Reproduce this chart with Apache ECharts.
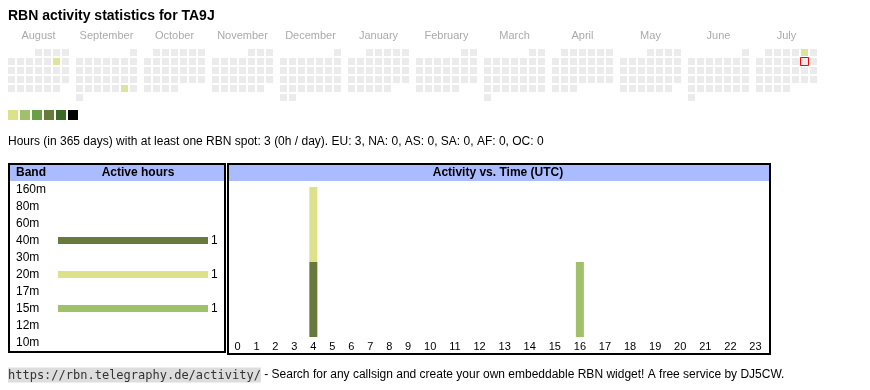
<!DOCTYPE html>
<html><head><meta charset="utf-8">
<script src="https://cdn.jsdelivr.net/npm/echarts@6/dist/echarts.min.js"></script>
<style>html,body{margin:0;padding:0;background:#fff}#c{width:870px;height:390px}</style>
</head><body><div id="c"></div>
<script>
// ---------- data ----------
const callsign = 'TA9J';
const months = ['2024-08','2024-09','2024-10','2024-11','2024-12','2025-01','2025-02','2025-03','2025-04','2025-05','2025-06','2025-07'];
const monthNames = ['August','September','October','November','December','January','February','March','April','May','June','July'];
const activeDays = ['2024-08-10','2024-09-28','2025-07-05'];
const activeDayHours = [1, 1, 1];
const today = '2025-07-12';
const levelColors = ['#dce28a','#9ec169','#68a043','#677a3b','#3c6a26','#000000'];
const levelMin = [1, 2, 4, 8, 16, 32];
const levelMax = [1, 3, 7, 15, 31, 24 * 31];
const bands = ['160m','80m','60m','40m','30m','20m','17m','15m','12m','10m'];
const bandHours = [0, 0, 0, 1, 0, 1, 0, 1, 0, 0];
const bandColors = ['#3c6a26','#68a043','#b0c070','#677a3b','#8aa050','#dce28a','#c0d080','#9ec169','#a0b860','#6f8f3f'];
const hours = ['0','1','2','3','4','5','6','7','8','9','10','11','12','13','14','15','16','17','18','19','20','21','22','23'];
const hourly40m = [0,0,0,0,1,0,0,0,0,0,0,0,0,0,0,0,0,0,0,0,0,0,0,0];
const hourly20m = [0,0,0,0,1,0,0,0,0,0,0,0,0,0,0,0,0,0,0,0,0,0,0,0];
const hourly15m = [0,0,0,0,0,0,0,0,0,0,0,0,0,0,0,0,1,0,0,0,0,0,0,0];
const continents = ['EU','NA','AS','SA','AF','OC'];
const continentHours = [3, 0, 0, 0, 0, 0];
const periodDays = 365;
const totalHours = 3;

// ---------- build ----------
const FONT = '"Liberation Sans", Arial, sans-serif';
const MONO = '"DejaVu Sans Mono", "Liberation Mono", monospace';
const hourlyByBand = bands.map(b => b === '40m' ? hourly40m : b === '20m' ? hourly20m : b === '15m' ? hourly15m : hours.map(() => 0));

const calendars = months.map((m, i) => ({
  orient: 'vertical', range: m, cellSize: [9, 9], left: 7 + i * 68, top: 48,
  dayLabel: { show: false, firstDay: 1 }, monthLabel: { show: false },
  yearLabel: { show: true, position: 'top', margin: 7, formatter: monthNames[i], color: '#aaaaaa', fontSize: 11, fontWeight: 'normal', fontFamily: FONT },
  splitLine: { show: false },
  itemStyle: { color: '#ebebeb', borderColor: '#ffffff', borderWidth: 2 }
}));

const series = [];
const dayIdx = [];
months.forEach((m, i) => {
  dayIdx.push(series.length);
  series.push({
    type: 'scatter', coordinateSystem: 'calendar', calendarIndex: i,
    data: activeDays.map((d, k) => [d, activeDayHours[k]]).filter(p => p[0].startsWith(m)),
    symbol: 'rect', symbolSize: 7, silent: true
  });
});
const todayCal = months.findIndex(m => today.startsWith(m));
series.push({
  type: 'scatter', coordinateSystem: 'calendar', calendarIndex: todayCal, data: [[today, 0]],
  symbol: 'rect', symbolSize: 8, z: 10, itemStyle: { color: '#ebebeb', borderColor: '#ff0000', borderWidth: 1, opacity: 1 }, silent: true
});

// left: active hours per band
const grids = [{ left: 58, top: 181, width: 150, height: 170 }];
const xAxes = [{ gridIndex: 0, type: 'value', min: 0, max: Math.max(...bandHours), show: false }];
const yAxes = [{ gridIndex: 0, type: 'category', data: bands, inverse: true,
  axisLine: { show: false }, axisTick: { show: false },
  axisLabel: { align: 'left', margin: 42, fontSize: 12, color: '#000', fontFamily: FONT } }];
series.push({
  type: 'bar', xAxisIndex: 0, yAxisIndex: 0, barWidth: 7, silent: true,
  data: bandHours.map((v, i) => ({ value: v, itemStyle: { color: bandColors[i] } })),
  label: { show: true, position: 'right', distance: 3, fontSize: 12, color: '#000', fontFamily: FONT, formatter: p => p.value > 0 ? String(p.value) : '' }
});

// right: activity vs time, table-like columns sized by label width
const ctx = document.createElement('canvas').getContext('2d');
ctx.font = '11px "Liberation Sans"';
const tw = hours.map(h => ctx.measureText(h).width);
const colStart = 228, colSpan = 540;
const pad = (colSpan - tw.reduce((a, b) => a + b, 0)) / hours.length;
const stackMax = Math.max(...hours.map((h, i) => hourlyByBand.reduce((s, arr) => s + arr[i], 0)));
let cx = colStart;
hours.forEach((h, i) => {
  const g = grids.length;
  const w = tw[i] + pad;
  grids.push({ left: cx, width: w, top: 187, height: 150 });
  cx += w;
  xAxes.push({ gridIndex: g, type: 'category', data: [h], axisLine: { show: false }, axisTick: { show: false },
    axisLabel: { margin: 4, fontSize: 11, color: '#000', fontFamily: FONT, interval: 0 } });
  yAxes.push({ gridIndex: g, type: 'value', min: 0, max: stackMax, show: false });
  bands.forEach((b, bi) => {
    const v = hourlyByBand[bi][i];
    if (v > 0) series.push({ type: 'bar', xAxisIndex: g, yAxisIndex: g, stack: 'h' + i, barWidth: 8, silent: true,
      data: [v], itemStyle: { color: bandColors[bi] } });
  });
});

const statsText = 'Hours (in ' + periodDays + ' days) with at least one RBN spot: ' + totalHours + ' (' + Math.round(totalHours / periodDays) + 'h / day). ' +
  continents.map((c, i) => c + ': ' + continentHours[i]).join(', ');

const graphic = [
  { type: 'text', left: 8, top: 9, style: { text: 'RBN activity statistics for ' + callsign, font: 'bold 14px ' + FONT, fill: '#000' } },
  { type: 'text', x: 8, y: 142, style: { text: statsText, font: '12px ' + FONT, fill: '#000', verticalAlign: 'middle' } },
  // left table
  { type: 'rect', shape: { x: 10, y: 165, width: 214, height: 16 }, style: { fill: '#aabbff' }, z: -1 },
  { type: 'rect', shape: { x: 9, y: 164, width: 216, height: 188 }, style: { fill: 'none', stroke: '#000', lineWidth: 2 } },
  { type: 'text', x: 16, y: 173, style: { text: 'Band', font: 'bold 12px ' + FONT, fill: '#000', verticalAlign: 'middle' } },
  { type: 'text', x: 138, y: 173, style: { text: 'Active hours', font: 'bold 12px ' + FONT, fill: '#000', align: 'center', verticalAlign: 'middle' } },
  // right table
  { type: 'rect', shape: { x: 229, y: 165, width: 540, height: 16 }, style: { fill: '#aabbff' }, z: -1 },
  { type: 'rect', shape: { x: 228, y: 164, width: 542, height: 190 }, style: { fill: 'none', stroke: '#000', lineWidth: 2 } },
  { type: 'text', x: 498, y: 173, style: { text: 'Activity vs. Time (UTC)', font: 'bold 12px ' + FONT, fill: '#000', align: 'center', verticalAlign: 'middle' } },
  // footer
  { type: 'text', x: 8, y: 375, style: {
      text: '{code|https://rbn.telegraphy.de/activity/}{t| - Search for any callsign and create your own embeddable RBN widget! A free service by DJ5CW.}',
      verticalAlign: 'middle',
      rich: {
        code: { font: '12px ' + MONO, fill: '#333', backgroundColor: '#dddddd', padding: [2, 0, 1, 0] },
        t: { font: '12px ' + FONT, fill: '#000' }
      } } }
];

const chart = echarts.init(document.getElementById('c'), null, { renderer: 'canvas' });
chart.setOption({
  animation: false,
  backgroundColor: '#fff',
  calendar: calendars,
  visualMap: {
    type: 'piecewise', seriesIndex: dayIdx, orient: 'horizontal', left: 8, top: 110, padding: 0,
    itemWidth: 10, itemHeight: 10, itemGap: 2, itemSymbol: 'rect', showLabel: false, selectedMode: false,
    pieces: levelColors.map((c, i) => ({ gte: levelMin[i], lte: levelMax[i], color: c }))
  },
  grid: grids, xAxis: xAxes, yAxis: yAxes,
  graphic: graphic,
  series: series
});
</script></body></html>
